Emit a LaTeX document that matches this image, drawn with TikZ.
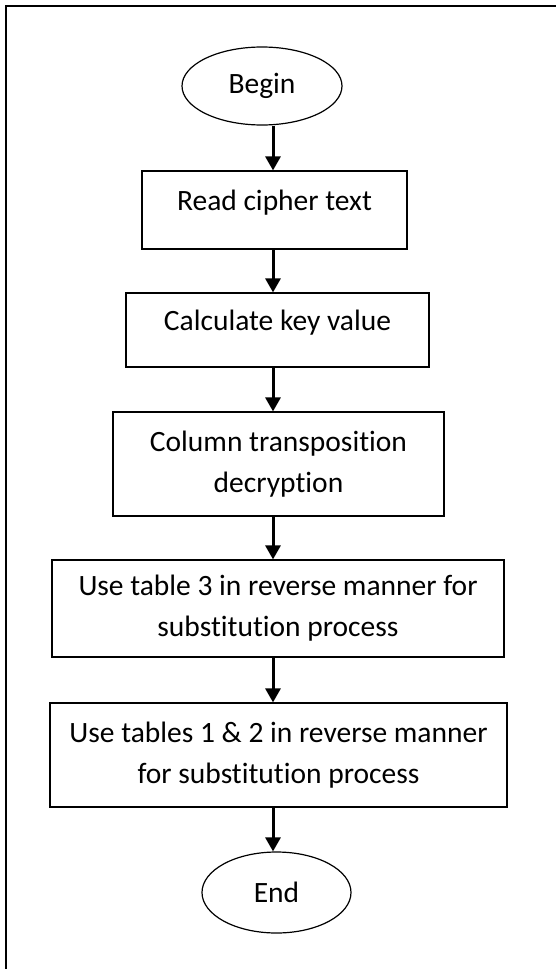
\documentclass[tikz,border=0pt]{standalone}
\usepackage{fontspec}
\setmainfont{Carlito}[Ligatures=NoCommon]
\usetikzlibrary{arrows.meta,shapes.geometric}
\begin{document}
\begin{tikzpicture}[x=1pt,y=-1pt,
  box/.style={draw,line width=1.2pt,rectangle,inner sep=0pt,align=center,font=\fontsize{29.5}{41}\selectfont},
  term/.style={draw,line width=1.2pt,ellipse,inner sep=0pt,font=\fontsize{29.5}{41}\selectfont},
  flow/.style={line width=3pt,-{Triangle[length=14pt,width=15pt]}}]
\useasboundingbox (0,0) rectangle (556,969);
\begin{scope}
\clip (0,0) rectangle (556,969);
\draw[line width=2pt] (6,1000) -- (6,6) -- (600,6);
\end{scope}
\coordinate (ax) at (273,0);
\node[term, minimum width=160pt, minimum height=78pt] (begin) at (262,86) {Begin};
\node[box, minimum width=265pt, minimum height=78pt, text height=20pt, text depth=20pt] (read) at (274.5,210) {Read cipher text};
\node[box, minimum width=303pt, minimum height=74pt, text height=20pt, text depth=20pt] (calc) at (277.5,330) {Calculate key value};
\node[box, minimum width=331pt, minimum height=104pt] (col) at (278.5,464) {Column transposition\\decryption};
\node[box, minimum width=452pt, minimum height=97pt] (use3) at (278,608.5) {Use table 3 in reverse manner for\\substitution process};
\node[box, minimum width=457pt, minimum height=104pt] (use12) at (278.5,755) {Use tables 1 \& 2 in reverse manner\\for substitution process};
\node[term, minimum width=149pt, minimum height=81pt] (end) at (276.5,892.5) {End};
\draw[flow] (begin.south -| ax) -- (read.north -| ax);
\draw[flow] (read.south -| ax) -- (calc.north -| ax);
\draw[flow] (calc.south -| ax) -- (col.north -| ax);
\draw[flow] (col.south -| ax) -- (use3.north -| ax);
\draw[flow] (use3.south -| ax) -- (use12.north -| ax);
\draw[flow] (use12.south -| ax) -- (end.north -| ax);
\end{tikzpicture}
\end{document}
